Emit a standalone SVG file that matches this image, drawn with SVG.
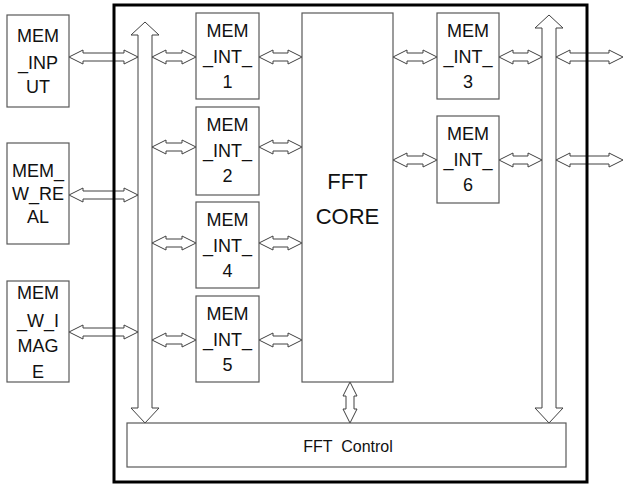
<svg xmlns="http://www.w3.org/2000/svg" width="625" height="486" viewBox="0 0 625 486">
<style>
.box{fill:#fff;stroke:#595959;stroke-width:1.2}
.ar{fill:#fff;stroke:#404040;stroke-width:1}
.t{font-family:"Liberation Sans",Arial,sans-serif;font-size:18px;fill:#111;text-anchor:middle}
.big{font-size:22px}
.sm{font-size:16px}
</style>
<rect x="0" y="0" width="625" height="486" fill="#fff"/>
<g id="outer-frame-bg"><rect x="114" y="5" width="473" height="477" fill="#fff"/></g>
<g id="connectors">
<polygon class="ar" points="145,22 159,35 152,35 152,408 159,408 145,423 131,408 138,408 138,35 131,35"/>
<polygon class="ar" points="549,15 563,28 556,28 556,408 563,408 549,423 535,408 542,408 542,28 535,28"/>
<polygon class="ar" points="69,57 83,50 83,53 124,53 124,50 138,57 124,64 124,61 83,61 83,64"/>
<polygon class="ar" points="69,195 83,188 83,191 124,191 124,188 138,195 124,202 124,199 83,199 83,202"/>
<polygon class="ar" points="69,332 83,325 83,328 124,328 124,325 138,332 124,339 124,336 83,336 83,339"/>
<polygon class="ar" points="152,57 166,50 166,53 182,53 182,50 196,57 182,64 182,61 166,61 166,64"/>
<polygon class="ar" points="152,147 166,140 166,143 182,143 182,140 196,147 182,154 182,151 166,151 166,154"/>
<polygon class="ar" points="152,243 166,236 166,239 182,239 182,236 196,243 182,250 182,247 166,247 166,250"/>
<polygon class="ar" points="152,340 166,333 166,336 182,336 182,333 196,340 182,347 182,344 166,344 166,347"/>
<polygon class="ar" points="259,57 273,50 273,53 288,53 288,50 302,57 288,64 288,61 273,61 273,64"/>
<polygon class="ar" points="259,147 273,140 273,143 288,143 288,140 302,147 288,154 288,151 273,151 273,154"/>
<polygon class="ar" points="259,243 273,236 273,239 288,239 288,236 302,243 288,250 288,247 273,247 273,250"/>
<polygon class="ar" points="259,340 273,333 273,336 288,336 288,333 302,340 288,347 288,344 273,344 273,347"/>
<polygon class="ar" points="393,57 407,50 407,53 423,53 423,50 437,57 423,64 423,61 407,61 407,64"/>
<polygon class="ar" points="393,160 407,153 407,156 423,156 423,153 437,160 423,167 423,164 407,164 407,167"/>
<polygon class="ar" points="499,57 513,50 513,53 528,53 528,50 542,57 528,64 528,61 513,61 513,64"/>
<polygon class="ar" points="499,160 513,153 513,156 528,156 528,153 542,160 528,167 528,164 513,164 513,167"/>
<polygon class="ar" points="556,57 570,50 570,53 609,53 609,50 623,57 609,64 609,61 570,61 570,64"/>
<polygon class="ar" points="556,160 570,153 570,156 609,156 609,153 623,160 609,167 609,164 570,164 570,167"/>
<polygon class="ar" points="350,382 357,396 354,396 354,409 357,409 350,423 343,409 346,409 346,396 343,396"/>
</g>
<g id="outer-frame"><rect x="114" y="5" width="473" height="477" fill="none" stroke="#000" stroke-width="3"/></g>
<g id="mem-input"><rect class="box" x="7" y="15" width="62" height="92"/>
<text class="t" x="38" y="42">MEM</text><text class="t" x="38" y="69">_INP</text><text class="t" x="38" y="93">UT</text></g>
<g id="mem-w-real"><rect class="box" x="7" y="143" width="62" height="101"/>
<text class="t" x="38" y="177">MEM_</text><text class="t" x="38" y="200">W_RE</text><text class="t" x="38" y="223">AL</text></g>
<g id="mem-w-image"><rect class="box" x="7" y="281" width="62" height="101"/>
<text class="t" x="38" y="299">MEM</text><text class="t" x="38" y="327">_W_I</text><text class="t" x="38" y="352">MAG</text><text class="t" x="38" y="378">E</text></g>
<g id="mem-int-1"><rect class="box" x="196" y="13" width="63" height="86"/>
<text class="t" x="227.5" y="37">MEM</text><text class="t" x="227.5" y="63">_INT_</text><text class="t" x="227.5" y="88">1</text></g>
<g id="mem-int-2"><rect class="box" x="196" y="107" width="63" height="88"/>
<text class="t" x="227.5" y="131">MEM</text><text class="t" x="227.5" y="157">_INT_</text><text class="t" x="227.5" y="182">2</text></g>
<g id="mem-int-4"><rect class="box" x="196" y="202" width="63" height="86"/>
<text class="t" x="227.5" y="226">MEM</text><text class="t" x="227.5" y="252">_INT_</text><text class="t" x="227.5" y="277">4</text></g>
<g id="mem-int-5"><rect class="box" x="196" y="296" width="63" height="86"/>
<text class="t" x="227.5" y="320">MEM</text><text class="t" x="227.5" y="346">_INT_</text><text class="t" x="227.5" y="371">5</text></g>
<g id="fft-core"><rect class="box" x="302" y="13" width="91" height="369"/>
<text class="t big" x="347.5" y="189">FFT</text><text class="t big" x="347.5" y="224">CORE</text></g>
<g id="mem-int-3"><rect class="box" x="437" y="13" width="62" height="86"/>
<text class="t" x="468" y="37">MEM</text><text class="t" x="468" y="63">_INT_</text><text class="t" x="468" y="88">3</text></g>
<g id="mem-int-6"><rect class="box" x="437" y="116" width="62" height="87"/>
<text class="t" x="468" y="140">MEM</text><text class="t" x="468" y="166">_INT_</text><text class="t" x="468" y="191">6</text></g>
<g id="fft-control"><rect class="box" x="127" y="423" width="439" height="44"/>
<text class="t sm" x="348" y="452" xml:space="preserve">FFT  Control</text></g>
</svg>
